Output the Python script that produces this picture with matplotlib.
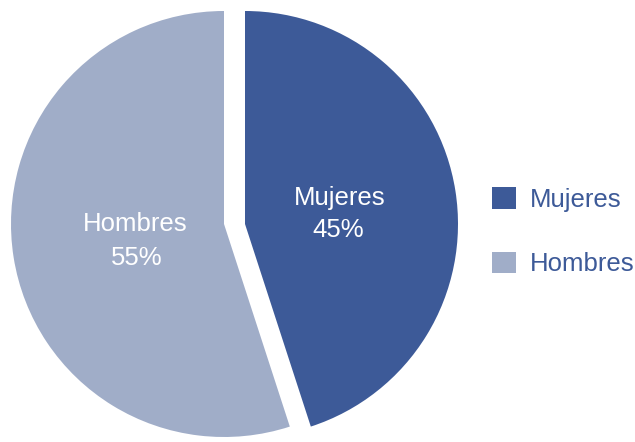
import numpy as np
import matplotlib.pyplot as plt

labels = ["Mujeres", "Hombres"]
values = [45, 55]
colors = ["#3d5a98", "#a0adc8"]

plt.rcParams['font.family'] = ['Liberation Sans', 'DejaVu Sans']

fig = plt.figure(figsize=(6.35, 4.42), dpi=100)
ax = fig.add_axes([0, 0, 1, 1])

# pie in pixel coords, Mujeres slice pushed to the right
cx, cy, r = 224, 218, 213
wedges, _ = ax.pie(values, colors=colors, startangle=90, counterclock=False,
                   center=(cx, cy), radius=r, frame=True)
wedges[0].set_center((cx + 21, cy))
ax.set_xlim(0, 635)
ax.set_ylim(0, 442)
ax.axis('off')

# slice labels
fs = 18.5
ax.text(340, 442 - 205, labels[0], color='white', fontsize=fs, ha='center', va='baseline')
ax.text(338, 442 - 237, f"{values[0]}%", color='white', fontsize=fs, ha='center', va='baseline')
ax.text(135.5, 442 - 231, labels[1], color='white', fontsize=fs, ha='center', va='baseline')
ax.text(137, 442 - 265, f"{values[1]}%", color='white', fontsize=fs, ha='center', va='baseline')

leg = ax.legend(wedges, labels, loc='upper left', bbox_to_anchor=(482 / 635, 1 - 177 / 442),
                frameon=False, fontsize=fs, handlelength=0.92, handleheight=0.92,
                handletextpad=0.55, labelspacing=1.55, borderaxespad=0)
for t in leg.get_texts():
    t.set_color("#3d5a98")

plt.savefig('out.png', dpi=100)
